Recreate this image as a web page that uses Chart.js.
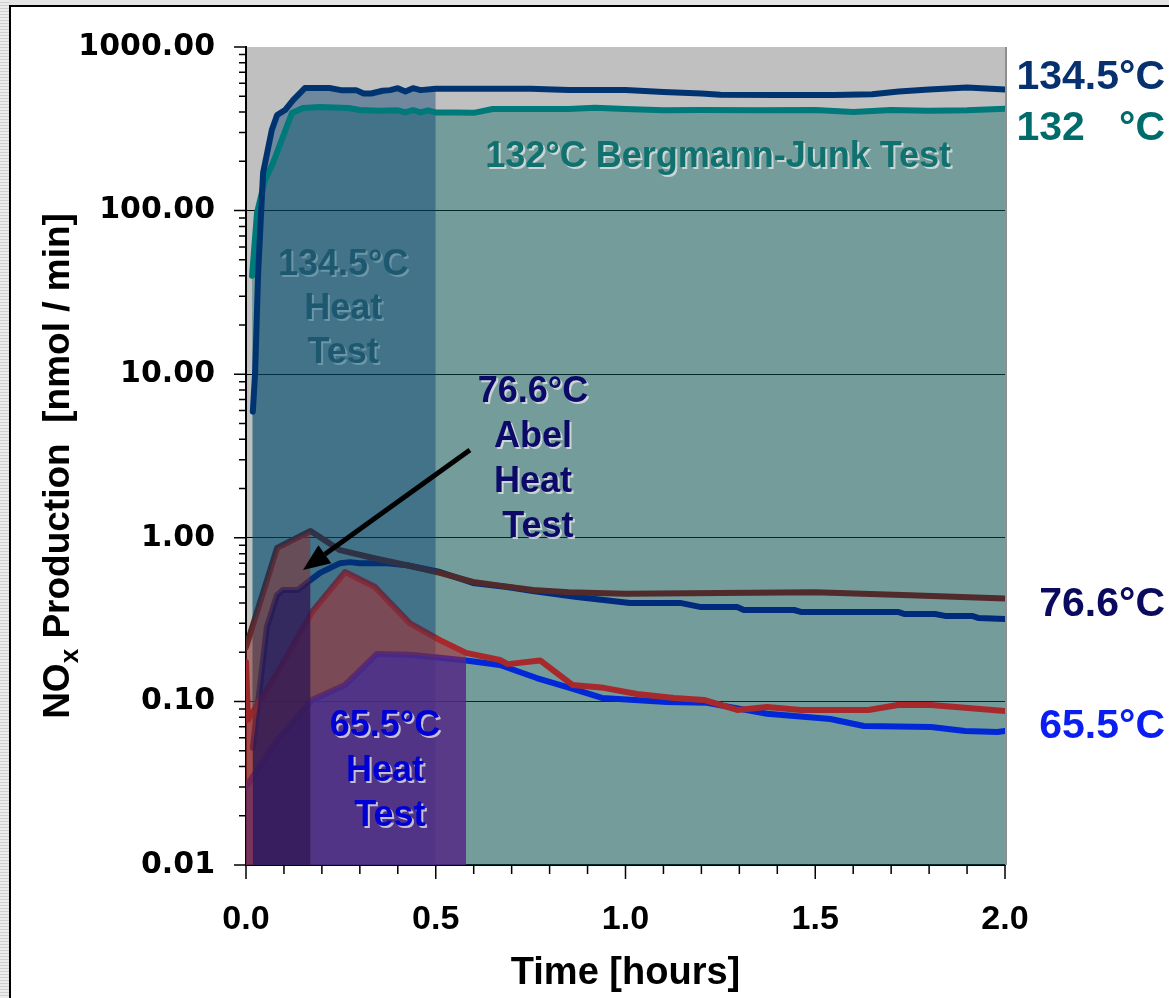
<!DOCTYPE html>
<html>
<head>
<meta charset="utf-8">
<title>NOx Production</title>
<script src="https://cdn.jsdelivr.net/npm/chart.js@4.4.1/dist/chart.umd.min.js"></script>
<style>
  html, body { margin: 0; padding: 0; }
  body { width: 1169px; height: 998px; overflow: hidden; position: relative; background: #e4e4e4; }
  .strip { position: absolute; left: 0; top: 0; width: 9px; height: 998px;
           background: repeating-linear-gradient(to bottom, #ececec 0 2px, #cfcfcf 2px 3px); }
  .sheet { position: absolute; left: 9px; top: 5px; width: 1158px; height: 991px;
           background: #fff; border-left: 2px solid #000; border-top: 2px solid #000; }
  #noxChart { position: absolute; left: 0; top: 0; }
</style>
</head>
<body>
<div class="strip"></div>
<div class="sheet"><canvas id="noxChart" width="1158" height="991"></canvas></div>
<script>
// time in hours, NOx production in nmol/min
const t1345 = [0.018, 0.024, 0.032, 0.045, 0.068, 0.082, 0.103, 0.124, 0.155, 0.22, 0.25, 0.29, 0.31, 0.33, 0.36, 0.38, 0.40, 0.42, 0.44, 0.46, 0.50, 0.60, 0.75, 0.85, 1.00, 1.10, 1.20, 1.25, 1.40, 1.55, 1.65, 1.72, 1.80, 1.90, 2.00];
const nox1345 = [5.9, 10.2, 41.6, 170, 311, 384, 412, 474, 561, 561, 545, 545, 520, 520, 540, 545, 560, 535, 560, 545, 555, 555, 555, 546, 546, 530, 520, 510, 509, 509, 515, 535, 550, 565, 550];

const t132 = [0.016, 0.029, 0.05, 0.071, 0.097, 0.121, 0.15, 0.195, 0.27, 0.30, 0.35, 0.40, 0.42, 0.44, 0.46, 0.48, 0.50, 0.55, 0.60, 0.65, 0.75, 0.85, 0.92, 1.00, 1.10, 1.20, 1.35, 1.50, 1.60, 1.70, 1.80, 1.90, 2.00];
const nox132 = [40, 97, 154, 195, 282, 395, 424, 430, 424, 412, 408, 410, 398, 412, 398, 410, 398, 398, 396, 418, 418, 418, 425, 418, 410, 412, 410, 412, 400, 412, 408, 410, 420];

const t766a = [0, 0.082, 0.17, 0.248, 0.335, 0.424, 0.511, 0.598, 0.669, 0.756, 0.85, 1.0, 1.25, 1.5, 1.75, 2.0];
const nox766a = [0.215, 0.867, 1.10, 0.84, 0.753, 0.68, 0.61, 0.537, 0.51, 0.48, 0.465, 0.455, 0.46, 0.465, 0.445, 0.425];

const t766b = [0.018, 0.055, 0.082, 0.097, 0.137, 0.17, 0.195, 0.248, 0.274, 0.30, 0.335, 0.372, 0.424, 0.511, 0.598, 0.688, 0.756, 0.872, 1.012, 1.144, 1.196, 1.294, 1.312, 1.444, 1.462, 1.718, 1.736, 1.816, 1.842, 1.913, 1.931, 2.0];
const nox766b = [0.052, 0.285, 0.447, 0.48, 0.48, 0.552, 0.61, 0.70, 0.71, 0.70, 0.70, 0.70, 0.68, 0.618, 0.53, 0.50, 0.473, 0.435, 0.40, 0.40, 0.378, 0.378, 0.362, 0.362, 0.352, 0.352, 0.342, 0.342, 0.333, 0.333, 0.323, 0.319];

const t655a = [0, 0.005, 0.082, 0.174, 0.261, 0.34, 0.432, 0.511, 0.58, 0.669, 0.69, 0.775, 0.86, 0.943, 1.03, 1.128, 1.207, 1.294, 1.373, 1.462, 1.64, 1.718, 1.805, 2.0];
const nox655a = [0.174, 0.077, 0.149, 0.352, 0.618, 0.50, 0.30, 0.237, 0.198, 0.179, 0.169, 0.178, 0.126, 0.121, 0.111, 0.105, 0.102, 0.0887, 0.0925, 0.0887, 0.0887, 0.095, 0.095, 0.0875];

const t655b = [0, 0.082, 0.174, 0.261, 0.345, 0.432, 0.511, 0.58, 0.669, 0.766, 0.853, 0.938, 1.109, 1.215, 1.373, 1.54, 1.628, 1.805, 1.895, 1.98, 2.0];
const nox655b = [0.030, 0.058, 0.102, 0.126, 0.195, 0.193, 0.185, 0.178, 0.167, 0.139, 0.121, 0.105, 0.099, 0.098, 0.084, 0.078, 0.0707, 0.0697, 0.066, 0.065, 0.066];

// test durations (hours) shaded under the curves
const heatTestEnd1345 = 0.5;
const abelTestEnd = 0.17;
const heatTestEnd655 = 0.58;

// axis ticks
const yDecades = [0.01, 0.1, 1, 10, 100, 1000];
const xTicks = [0, 0.1, 0.2, 0.3, 0.4, 0.5, 0.6, 0.7, 0.8, 0.9, 1.0, 1.1, 1.2, 1.3, 1.4, 1.5, 1.6, 1.7, 1.8, 1.9, 2.0];
const xLabelled = [0, 0.5, 1.0, 1.5, 2.0];

const yTicks = [];
yDecades.forEach((d, i) => {
    yTicks.push(d);
    if (i < yDecades.length - 1) {
        for (let k = 2; k <= 9; k++) yTicks.push(k * d);
    }
});

const isDecade = v => yDecades.some(d => Math.abs(d - v) < d * 1e-6);
const isLabelledX = v => xLabelled.some(d => Math.abs(d - v) < 1e-6);

function points(t, v, until) {
    const pts = t.map((x, i) => ({ x: x, y: v[i] }));
    return until === undefined ? pts : pts.filter(p => p.x <= until + 1e-9);
}

function lineSet(label, t, v, color, order) {
    return {
        label: label,
        data: points(t, v),
        borderColor: color,
        borderWidth: 6,
        borderJoinStyle: 'round',
        borderCapStyle: 'round',
        pointRadius: 0,
        tension: 0,
        fill: false,
        order: order
    };
}

function areaSet(label, t, v, until, color, order) {
    return {
        label: label,
        data: points(t, v, until),
        borderWidth: 0,
        borderColor: 'rgba(0,0,0,0)',
        backgroundColor: color,
        pointRadius: 0,
        tension: 0,
        fill: 'start',
        order: order
    };
}

const LABEL_FONT = '"Liberation Sans", Arial, sans-serif';

function drawText(ctx, lines, x, y, step, color, size, align, shadow) {
    ctx.save();
    ctx.font = 'bold ' + size + 'px ' + LABEL_FONT;
    ctx.textAlign = align;
    ctx.textBaseline = 'middle';
    if (shadow) {
        ctx.shadowColor = shadow;
        ctx.shadowOffsetX = 2;
        ctx.shadowOffsetY = 2;
        ctx.shadowBlur = 0;
    }
    ctx.fillStyle = color;
    lines.forEach((s, i) => ctx.fillText(s, x, y + i * step));
    ctx.restore();
}

// plot background, annotations, tick marks and the rotated y title
const plotDecor = {
    id: 'plotDecor',
    beforeDraw(chart) {
        const a = chart.chartArea, ctx = chart.ctx;
        ctx.save();
        ctx.fillStyle = '#c0c0c0';
        ctx.fillRect(a.left, a.top, a.right - a.left, a.bottom - a.top);
        ctx.restore();
    },
    afterDatasetsDraw(chart) {
        const a = chart.chartArea, ctx = chart.ctx;
        const xs = chart.scales.x, ys = chart.scales.y;

        // right edge of the plot
        ctx.save();
        ctx.strokeStyle = '#8e8e8e';
        ctx.lineWidth = 2;
        ctx.beginPath();
        ctx.moveTo(a.right + 1, a.top);
        ctx.lineTo(a.right + 1, a.bottom);
        ctx.stroke();
        ctx.restore();

        // text inside the plot
        const lightShadow = 'rgba(226,226,226,0.8)';
        drawText(ctx, ['132°C Bergmann-Junk Test'], xs.getPixelForValue(1.244), ys.getPixelForValue(213), 0, '#10716f', 36, 'center', lightShadow);
        drawText(ctx, ['134.5°C', 'Heat', 'Test'], xs.getPixelForValue(0.256), ys.getPixelForValue(46.5), 44, '#1d5870', 36, 'center', 'rgba(150,185,195,0.5)');
        drawText(ctx, ['76.6°C', 'Abel', 'Heat', ' Test'], xs.getPixelForValue(0.756), ys.getPixelForValue(7.78), 45, '#0c0a68', 36, 'center', lightShadow);
        drawText(ctx, ['65.5°C', 'Heat', ' Test'], xs.getPixelForValue(0.366), ys.getPixelForValue(0.0708), 45, '#0000d4', 36, 'center', lightShadow);

        // series names at the right
        const rx = a.right + 160;
        drawText(ctx, ['134.5°C'], rx, ys.getPixelForValue(646), 0, '#06306e', 41, 'right', null);
        drawText(ctx, ['132   °C'], rx, ys.getPixelForValue(315), 0, '#006b6b', 41, 'right', null);
        drawText(ctx, ['76.6°C'], rx, ys.getPixelForValue(0.388), 0, '#0a0a5e', 41, 'right', null);
        drawText(ctx, ['65.5°C'], rx, ys.getPixelForValue(0.0698), 0, '#0a1ef2', 41, 'right', null);

        // arrow to the Abel test region
        const x0 = xs.getPixelForValue(0.59), y0 = ys.getPixelForValue(3.44);
        const x1 = xs.getPixelForValue(0.15), y1 = ys.getPixelForValue(0.635);
        const ang = Math.atan2(y1 - y0, x1 - x0);
        const head = 27, half = 11;
        const bx = x1 - head * Math.cos(ang), by = y1 - head * Math.sin(ang);
        ctx.save();
        ctx.strokeStyle = '#000';
        ctx.fillStyle = '#000';
        ctx.lineWidth = 5;
        ctx.beginPath();
        ctx.moveTo(x0, y0);
        ctx.lineTo(bx, by);
        ctx.stroke();
        ctx.beginPath();
        ctx.moveTo(x1, y1);
        ctx.lineTo(bx + half * Math.sin(ang), by - half * Math.cos(ang));
        ctx.lineTo(bx - half * Math.sin(ang), by + half * Math.cos(ang));
        ctx.closePath();
        ctx.fill();
        ctx.restore();
    },
    afterDraw(chart) {
        const a = chart.chartArea, ctx = chart.ctx;
        const xs = chart.scales.x, ys = chart.scales.y;

        // tick marks, longer at labelled positions
        ctx.save();
        ctx.strokeStyle = '#000';
        ctx.lineWidth = 1.5;
        ctx.beginPath();
        ys.ticks.forEach(tk => {
            const py = ys.getPixelForValue(tk.value);
            const len = isDecade(tk.value) ? 12 : 7;
            ctx.moveTo(a.left - len, py);
            ctx.lineTo(a.left, py);
        });
        xs.ticks.forEach(tk => {
            const px = xs.getPixelForValue(tk.value);
            const len = isLabelledX(tk.value) ? 14 : 9;
            ctx.moveTo(px, a.bottom);
            ctx.lineTo(px, a.bottom + len);
        });
        ctx.stroke();
        ctx.restore();

        // y axis title with subscript x
        const parts = [
            ['NO', 37, 0],
            ['x', 26, 9],
            [' Production  [nmol / min]', 37, 0]
        ];
        ctx.save();
        ctx.translate(45, (a.top + a.bottom) / 2 + 10);
        ctx.rotate(-Math.PI / 2);
        ctx.fillStyle = '#000';
        ctx.textBaseline = 'alphabetic';
        ctx.textAlign = 'left';
        let total = 0;
        parts.forEach(p => {
            ctx.font = 'bold ' + p[1] + 'px ' + LABEL_FONT;
            total += ctx.measureText(p[0]).width;
        });
        let cx = -total / 2;
        parts.forEach(p => {
            ctx.font = 'bold ' + p[1] + 'px ' + LABEL_FONT;
            ctx.fillText(p[0], cx, 13 + p[2]);
            cx += ctx.measureText(p[0]).width;
        });
        ctx.restore();
    }
};

const datasets = [
    areaSet('132 °C area', t132, nox132, undefined, 'rgba(0,102,100,0.4)', 10),
    lineSet('76.6 °C (a)', t766a, nox766a, '#512a2b', 9),
    lineSet('76.6 °C (b)', t766b, nox766b, '#002a7c', 9.5),
    lineSet('65.5 °C (a)', t655a, nox655a, '#a8292b', 9),
    lineSet('65.5 °C (b)', t655b, nox655b, '#0028d6', 9.5),
    areaSet('134.5 °C heat test', t1345, nox1345, heatTestEnd1345, 'rgba(0,60,110,0.42)', 8),
    areaSet('65.5 °C heat test (a)', t655a, nox655a, heatTestEnd655, 'rgba(170,40,45,0.55)', 7),
    areaSet('65.5 °C heat test (b)', t655b, nox655b, heatTestEnd655, 'rgba(60,40,160,0.65)', 6),
    areaSet('76.6 °C Abel test (a)', t766a, nox766a, abelTestEnd, 'rgba(140,40,40,0.5)', 5),
    areaSet('76.6 °C Abel test (b)', t766b, nox766b, abelTestEnd, 'rgba(20,20,100,0.6)', 4),
    lineSet('132 °C', t132, nox132, '#00797a', 2),
    lineSet('134.5 °C', t1345, nox1345, '#003471', 1)
];

new Chart(document.getElementById('noxChart'), {
    type: 'line',
    data: { datasets: datasets },
    options: {
        responsive: false,
        animation: false,
        devicePixelRatio: 1,
        layout: { padding: { left: 0, right: 164, top: 40, bottom: 0 } },
        plugins: {
            legend: { display: false },
            tooltip: { enabled: false }
        },
        scales: {
            x: {
                type: 'linear',
                min: 0,
                max: 2,
                afterBuildTicks: s => { s.ticks = xTicks.map(v => ({ value: v })); },
                afterFit: s => { s.height = 133; },
                ticks: {
                    autoSkip: false,
                    maxRotation: 0,
                    padding: 34,
                    color: '#000',
                    font: { family: LABEL_FONT, weight: 'bold', size: 34 },
                    callback: v => isLabelledX(v) ? Number(v).toFixed(1) : ''
                },
                grid: { drawOnChartArea: false, drawTicks: false },
                border: { color: '#000', width: 2 },
                title: {
                    display: true,
                    text: 'Time [hours]',
                    color: '#000',
                    font: { family: LABEL_FONT, weight: 'bold', size: 38 },
                    padding: { top: 0, bottom: 2 }
                }
            },
            y: {
                type: 'logarithmic',
                min: 0.01,
                max: 1000,
                afterBuildTicks: s => { s.ticks = yTicks.map(v => ({ value: v })); },
                afterFit: s => {
                    s.width = 235;
                    // keep the label padding from pushing the plot top down
                    s.paddingTop = 0;
                    s.paddingBottom = 0;
                },
                ticks: {
                    autoSkip: false,
                    padding: 31,
                    color: '#000',
                    font: { family: '"DejaVu Sans", Verdana, sans-serif', weight: 'bold', size: 30 },
                    callback: v => isDecade(v) ? Number(v).toFixed(2) : ''
                },
                grid: {
                    drawTicks: false,
                    lineWidth: 1,
                    color: c => (c.tick && isDecade(c.tick.value) && c.tick.value < 1000) ? '#000' : 'rgba(0,0,0,0)'
                },
                border: { color: '#000', width: 2 }
            }
        }
    },
    plugins: [plotDecor]
});
</script>
</body>
</html>
